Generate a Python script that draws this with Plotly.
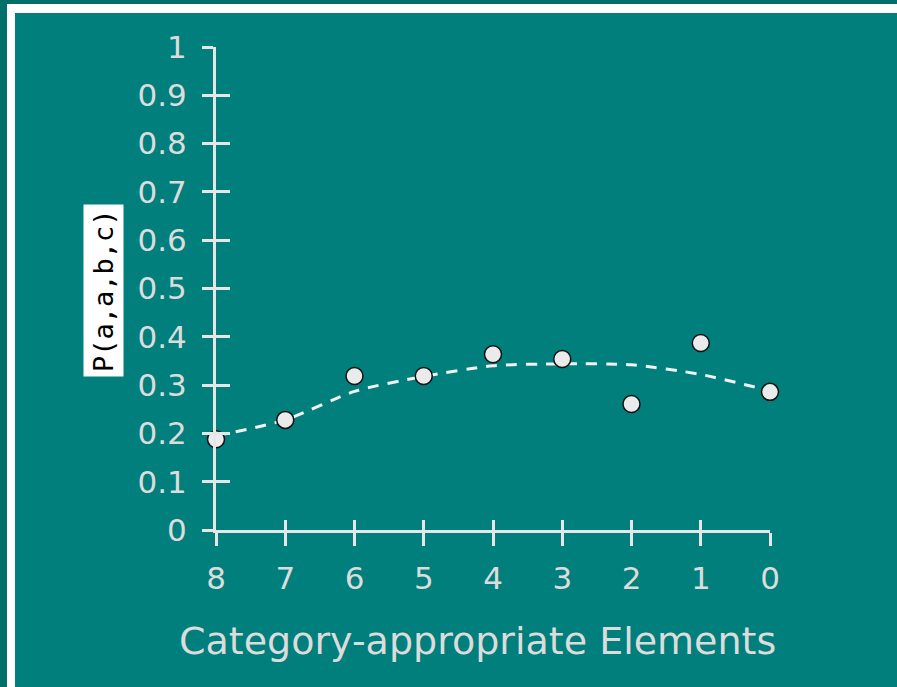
import plotly.graph_objects as go

categories = ["8", "7", "6", "5", "4", "3", "2", "1", "0"]
observed = [0.188, 0.228, 0.319, 0.319, 0.364, 0.354, 0.261, 0.387, 0.286]
fitted = [0.195, 0.228, 0.287, 0.318, 0.340, 0.344, 0.342, 0.322, 0.288]
y_ticks = [0, 0.1, 0.2, 0.3, 0.4, 0.5, 0.6, 0.7, 0.8, 0.9, 1]

W, H = 897, 687
L, R, T, B = 216, 127, 47, 157
PW, PH = W - L - R, H - T - B

def px(x):
    return (x - L) / PW

def py(y):
    return 1 - (y - T) / PH

OUTER = "#006e69"
INNER = "#007f7d"
LIGHT = "#e6e6e6"
TXT = "#dcdcdc"

fig = go.Figure()
fig.add_trace(go.Scatter(
    x=categories, y=fitted, mode="lines",
    line=dict(color="#f2f2f2", width=3, dash="11px,9px", shape="spline", smoothing=0.7),
    hoverinfo="skip", showlegend=False, cliponaxis=False))
fig.add_trace(go.Scatter(
    x=categories, y=observed, mode="markers",
    marker=dict(size=17, color="#ebebeb", line=dict(color="#111111", width=1.5)),
    showlegend=False, cliponaxis=False))
# invisible trace to carry the inside-tick overlay axes
fig.add_trace(go.Scatter(
    x=categories, y=observed, mode="markers", xaxis="x2", yaxis="y2",
    marker=dict(opacity=0), hoverinfo="skip", showlegend=False))

tick_font = dict(family="DejaVu Sans", size=31, color=TXT)
title_font = dict(family="DejaVu Sans", size=38, color=TXT)

fig.update_layout(
    width=W, height=H,
    margin=dict(l=L, r=R, t=T, b=B),
    paper_bgcolor=OUTER, plot_bgcolor="rgba(0,0,0,0)",
    font=tick_font,
    xaxis=dict(type="category", categoryorder="array", categoryarray=categories,
               range=[0, len(categories) - 1], showgrid=False, zeroline=False,
               showline=True, linecolor=LIGHT, linewidth=3,
               ticks="outside", ticklen=13, tickwidth=3, tickcolor=LIGHT,
               tickfont=tick_font, ticklabelstandoff=6),
    yaxis=dict(range=[0, 1], tickvals=y_ticks, showgrid=False, zeroline=False,
               showline=True, linecolor=LIGHT, linewidth=3,
               ticks="outside", ticklen=11, tickwidth=3, tickcolor=LIGHT,
               tickfont=tick_font, ticklabelstandoff=9),
    xaxis2=dict(type="category", categoryorder="array", categoryarray=categories,
                range=[0, len(categories) - 1], overlaying="x", side="bottom",
                showgrid=False, zeroline=False, showline=False, showticklabels=False,
                ticks="inside", ticklen=10, tickwidth=3, tickcolor=LIGHT),
    yaxis2=dict(range=[0, 1], tickvals=y_ticks, overlaying="y", side="left",
                showgrid=False, zeroline=False, showline=False, showticklabels=False,
                ticks="inside", ticklen=14, tickwidth=3, tickcolor=LIGHT),
    shapes=[
        dict(type="rect", xref="paper", yref="paper", layer="below",
             x0=px(7), x1=px(W + 20), y0=py(H + 20), y1=py(4),
             fillcolor="white", line=dict(width=0)),
        dict(type="rect", xref="paper", yref="paper", layer="below",
             x0=px(15), x1=px(W + 20), y0=py(H + 20), y1=py(13),
             fillcolor=INNER, line=dict(width=0)),
    ],
    annotations=[
        dict(text="P(a,a,b,c)", xref="paper", yref="paper", x=px(103), y=py(291),
             xanchor="center", yanchor="middle", textangle=-90, showarrow=False,
             font=dict(family="DejaVu Sans Mono", size=27, color="black"),
             bgcolor="white", borderpad=4),
        dict(text="Category-appropriate Elements", xref="paper", yref="paper",
             x=px(477), y=py(641), xanchor="center", yanchor="middle",
             showarrow=False, font=title_font),
    ],
)

fig.write_html("out.html", config={"displayModeBar": False},
               post_script="document.body.style.margin='0';document.body.style.overflow='hidden';")
